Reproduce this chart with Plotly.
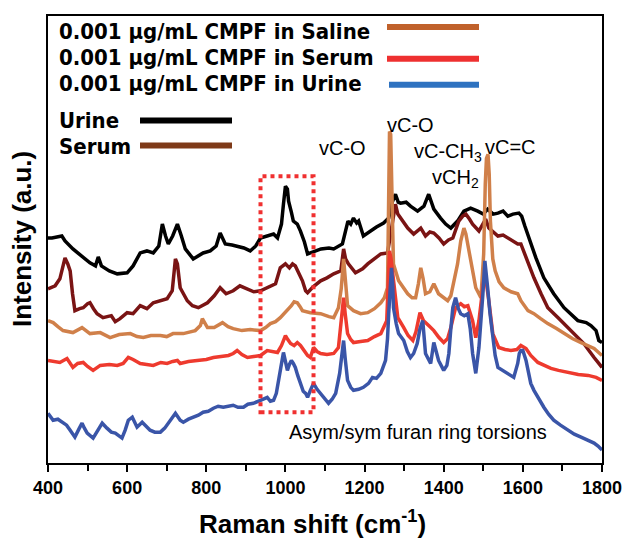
import plotly.graph_objects as go

# ---------------- data (Raman shift in cm-1, intensity in a.u. with offsets) ----------------
urine_x = [400, 410, 435, 443, 463, 485, 506, 520, 527, 535, 555, 575, 600, 615, 633, 650, 666, 680, 689, 697,
           704, 715, 727, 737, 747, 767, 780, 792, 810, 825, 835, 848, 865, 878, 895, 911, 925, 937, 954, 970,
           980, 990, 995, 1000, 1005, 1008, 1015, 1020, 1030, 1038, 1048, 1056, 1070, 1090, 1110, 1122, 1144,
           1152, 1158, 1165, 1172, 1180, 1185, 1197, 1215, 1230, 1248, 1261, 1270, 1278, 1285, 1291, 1305, 1316,
           1334, 1350, 1362, 1368, 1375, 1392, 1405, 1418, 1435, 1451, 1468, 1486, 1500, 1511, 1525, 1537, 1550,
           1562, 1575, 1590, 1597, 1605, 1615, 1633, 1653, 1678, 1704, 1739, 1760, 1772, 1785, 1792, 1800]
urine_y = [226, 226, 228, 223, 215, 208, 201, 198, 207, 198, 193, 190, 191, 198, 211, 213, 211, 218, 240, 228,
           220, 228, 240, 228, 215, 205, 208, 211, 213, 218, 231, 220, 219, 218, 216, 213, 218, 226, 228, 230,
           226, 240, 260, 278, 275, 263, 252, 243, 240, 233, 222, 210, 212, 215, 216, 215, 220,
           235, 243, 240, 246, 241, 243, 228, 233, 237, 241, 246, 262, 270, 262, 261, 262, 258,
           253, 258, 270, 262, 255, 246, 240, 236, 243, 253, 256, 253, 250, 255, 250, 251, 253,
           248, 250, 251, 248, 238, 226, 206, 186, 170, 156, 143, 141, 138, 133, 123, 121]

serum_x = [400, 418, 430, 443, 450, 456, 462, 468, 480, 489, 500, 506, 515, 524, 539, 560, 570, 582, 600, 615,
           633, 650, 666, 685, 701, 714, 718, 722, 727, 734, 752, 765, 780, 803, 820, 835, 850, 868, 885, 904,
           920, 937, 962, 975, 987, 995, 1000, 1010, 1018, 1025, 1035, 1043, 1051, 1056, 1070, 1089, 1105, 1122,
           1140, 1147, 1152, 1159, 1177, 1195, 1208, 1225, 1241, 1258, 1265, 1271, 1278, 1284, 1291, 1309, 1324,
           1342, 1354, 1365, 1375, 1388, 1400, 1412, 1423, 1430, 1438, 1448, 1456, 1465, 1473, 1489, 1500, 1506,
           1514, 1525, 1537, 1550, 1562, 1575, 1587, 1595, 1605, 1613, 1628, 1646, 1663, 1689, 1722, 1754, 1780,
           1800]
serum_y = [175, 178, 185, 206, 200, 193, 170, 153, 155, 156, 160, 161, 155, 150, 146, 148, 142, 145, 151, 150,
           158, 155, 161, 163, 165, 173, 190, 205, 200, 176, 163, 158, 156, 161, 168, 176, 170, 173, 178, 175,
           172, 173, 178, 180, 196, 198, 200, 196, 200, 198, 190, 183, 173, 171, 177, 183, 186, 190,
           193, 215, 205, 200, 191, 195, 200, 205, 210, 211, 228, 240, 260, 250, 246, 236, 230,
           236, 228, 232, 231, 226, 220, 224, 226, 235, 243, 248, 250, 245, 240, 233, 240, 245,
           236, 232, 228, 229, 226, 222, 220, 220, 210, 200, 186, 170, 156, 146, 133, 120, 106,
           96]

saline_cmpf_x = [400, 413, 425, 438, 463, 486, 506, 532, 557, 580, 608, 625, 641, 660, 684, 700, 716, 742, 772,
                 785, 790, 797, 803, 820, 841, 855, 868, 890, 911, 937, 950, 962, 975, 987, 997, 1005, 1015, 1022,
                 1030, 1037, 1043, 1063, 1089, 1110, 1122, 1134, 1141, 1147, 1151, 1157, 1172, 1190, 1208, 1225,
                 1241, 1250, 1258, 1261, 1263, 1266, 1269, 1273, 1286, 1300, 1309, 1320, 1329, 1336, 1342, 1348,
                 1354, 1365, 1375, 1387, 1400, 1410, 1418, 1425, 1435, 1443, 1451, 1456, 1463, 1472, 1481, 1494,
                 1501, 1505, 1508, 1512, 1515, 1518, 1524, 1530, 1540, 1552, 1570, 1587, 1595, 1613, 1628, 1645,
                 1663, 1685, 1704, 1725, 1747, 1765, 1780, 1800]
saline_cmpf_y = [143, 141, 137, 133, 131, 136, 130, 131, 126, 129, 130, 127, 126, 128, 128, 127, 130, 130, 133,
                 138, 145, 140, 136, 136, 141, 137, 135, 133, 134, 133, 136, 140, 142, 146, 150, 153, 158, 162,
                 161, 157, 153, 151, 150, 147, 146, 156, 175, 205, 185, 158, 153, 150, 151, 155,
                 161, 166, 176, 250, 333, 330, 260, 200, 183, 175, 170, 166, 166, 180, 196, 185,
                 170, 172, 180, 170, 166, 163, 168, 183, 200, 223, 236, 230, 216, 195, 176, 166,
                 210, 280, 306, 310, 290, 243, 205, 193, 182, 176, 172, 170, 163, 153, 150, 145,
                 140, 135, 130, 125, 121, 118, 115, 108]

serum_cmpf_x = [400, 415, 430, 448, 463, 475, 489, 500, 514, 532, 555, 575, 590, 603, 615, 633, 650, 666, 685,
                701, 715, 727, 734, 755, 777, 800, 818, 840, 856, 868, 878, 890, 904, 920, 937, 954, 967, 980,
                990, 1000, 1006, 1013, 1022, 1030, 1038, 1046, 1056, 1063, 1071, 1080, 1089, 1105, 1122, 1134,
                1141, 1147, 1151, 1157, 1165, 1172, 1190, 1208, 1225, 1241, 1256, 1260, 1263, 1267, 1273, 1278,
                1284, 1299, 1310, 1322, 1330, 1340, 1349, 1362, 1375, 1388, 1400, 1410, 1418, 1430, 1443, 1452,
                1461, 1473, 1481, 1489, 1496, 1501, 1506, 1510, 1514, 1524, 1539, 1555, 1570, 1585, 1595, 1608,
                1620, 1638, 1655, 1671, 1690, 1714, 1740, 1765, 1785, 1800]
serum_cmpf_y = [103, 102, 101, 105, 96, 100, 101, 97, 93, 98, 99, 98, 100, 106, 104, 100, 99, 98, 101,
                100, 102, 103, 100, 102, 103, 104, 106, 107, 108, 110, 113, 109, 106, 107, 108, 113, 112, 111,
                118, 128, 124, 120, 118, 121, 118, 113, 108, 106, 116, 112, 110, 109, 110, 116,
                140, 166, 150, 130, 124, 121, 122, 123, 127, 130, 143, 180, 213, 205, 183, 160,
                146, 136, 128, 123, 132, 151, 143, 138, 133, 126, 121, 125, 136, 156, 160, 157,
                158, 143, 126, 143, 165, 183, 186, 175, 163, 130, 116, 114, 113, 114, 118, 115,
                108, 101, 98, 95, 93, 91, 89, 88, 86, 83]

urine_cmpf_x = [400, 413, 425, 438, 447, 456, 468, 478, 486, 492, 499, 514, 525, 537, 549, 560, 570, 587, 595,
                603, 613, 625, 638, 648, 658, 670, 684, 695, 704, 714, 722, 734, 742, 755, 767, 780, 792, 805,
                818, 830, 843, 855, 868, 880, 894, 905, 919, 937, 954, 962, 970, 977, 982, 988, 995, 1000, 1005,
                1010, 1015, 1020, 1025, 1031, 1038, 1045, 1051, 1056, 1063, 1071, 1080, 1089, 1100, 1109, 1118,
                1127, 1137, 1143, 1147, 1151, 1157, 1165, 1172, 1185, 1197, 1210, 1220, 1230, 1241, 1253, 1258,
                1261, 1265, 1268, 1271, 1273, 1280, 1286, 1299, 1308, 1316, 1324, 1333, 1340, 1347, 1354, 1367,
                1375, 1387, 1400, 1408, 1413, 1418, 1423, 1430, 1437, 1443, 1452, 1461, 1467, 1473, 1481, 1489,
                1495, 1499, 1504, 1508, 1511, 1517, 1524, 1530, 1537, 1550, 1562, 1577, 1587, 1591, 1595, 1600,
                1608, 1620, 1628, 1640, 1653, 1665, 1678, 1695, 1714, 1730, 1747, 1765, 1780, 1790, 1800]
urine_cmpf_y = [50, 43, 44, 41, 38, 33, 26, 34, 40, 35, 30, 25, 33, 40, 35, 31, 30, 25, 33,
                43, 46, 36, 41, 37, 33, 31, 31, 35, 40, 45, 50, 43, 41, 44, 46, 48, 51, 52,
                55, 57, 56, 57, 58, 56, 56, 59, 60, 63, 66, 62, 63, 70, 80, 95, 111, 103, 93,
                99, 103, 100, 96, 88, 80, 72, 70, 66, 73, 80, 74, 70, 64, 60, 64,
                70, 90, 110, 123, 105, 83, 76, 73, 74, 76, 80, 86, 85, 90, 103, 125,
                150, 180, 196, 180, 156, 140, 130, 123, 112, 106, 110, 120, 135, 143, 110, 100,
                121, 103, 93, 98, 110, 135, 156, 166, 155, 150, 148, 150, 135, 110, 90, 116,
                145, 170, 203, 190, 176, 150, 126, 108, 96, 93, 90, 86, 100, 110, 113, 113,
                103, 80, 73, 64, 56, 49, 43, 38, 33, 29, 26, 23, 20, 17, 13]

series = [
    ("Urine", urine_x, urine_y, "#000000"),
    ("Serum", serum_x, serum_y, "#7A1414"),
    ("0.001 μg/mL CMPF in Saline", saline_cmpf_x, saline_cmpf_y, "#D0804A"),
    ("0.001 μg/mL CMPF in Serum", serum_cmpf_x, serum_cmpf_y, "#EE3A2E"),
    ("0.001 μg/mL CMPF in Urine", urine_cmpf_x, urine_cmpf_y, "#3A55A8"),
]

# label, colour, text y, line y, line x0, line x1  (page pixels)
legend_entries = [
    ("0.001 μg/mL CMPF in Saline", "#C0612B", 30, 25, 387, 479),
    ("0.001 μg/mL CMPF in Serum", "#EE3030", 56, 57, 387, 479),
    ("0.001 μg/mL CMPF in Urine", "#2E72C0", 82, 83, 389, 479),
    ("Urine", "#000000", 119, 119, 140, 232),
    ("Serum", "#7E3A18", 145, 144, 140, 232),
]

peak_labels = [
    ("vC-O", 1145, 316),
    ("vC-O", 1317, 340),
    ("vC-CH<sub>3</sub>", 1411, 312),
    ("vCH<sub>2</sub>", 1430, 286),
    ("vC=C", 1570, 317),
]

# ---------------- figure ----------------
# page has an 8px body margin, so the figure is 8px smaller and margins shifted
W, H = 624, 538
L, R, T, B = 40, 30, 6, 83
PW, PH = W - L - R, H - T - B
X0, Y0 = 48, 463   # page pixel of the plot's lower-left corner


def px(xp):
    return (xp - X0) / PW


def py(yp):
    return (Y0 - yp) / PH


fig = go.Figure()
for name, xs, ys, col in series:
    fig.add_trace(go.Scatter(x=xs, y=ys, mode="lines", name=name,
                             line=dict(color=col, width=3.5), showlegend=False))

ann = []
shapes = []
for text, col, ty, ly, lx0, lx1 in legend_entries:
    ann.append(dict(text=text, x=px(57), y=py(ty), xref="paper", yref="paper",
                    xanchor="left", yanchor="middle", showarrow=False,
                    font=dict(family="DejaVu Sans Condensed, Lato", size=22, color="black", weight="bold")))
    shapes.append(dict(type="line", xref="paper", yref="paper", x0=px(lx0), x1=px(lx1),
                       y0=py(ly), y1=py(ly), line=dict(color=col, width=6)))

for text, xv, yv in peak_labels:
    ann.append(dict(text=text, x=xv, y=yv, xref="x", yref="y", showarrow=False,
                    xanchor="center", yanchor="middle",
                    font=dict(family="Liberation Sans", size=20, color="black")))

ann.append(dict(text="Asym/sym furan ring torsions", x=1335, y=31, xref="x", yref="y",
                showarrow=False, xanchor="center", yanchor="middle",
                font=dict(family="Liberation Sans", size=20, color="black")))

# dotted box around furan ring torsion band
shapes.append(dict(type="rect", xref="x", yref="y", x0=937, x1=1071, y0=51, y1=288,
                   line=dict(color="#F03030", width=4, dash="dot")))

ann.append(dict(text="Raman shift (cm<sup>-1</sup>)", x=px(312), y=py(523), xref="paper", yref="paper",
                showarrow=False, xanchor="center", yanchor="middle",
                font=dict(family="Liberation Sans", size=26, color="black", weight="bold")))
ann.append(dict(text="Intensity (a.u.)", x=px(22), y=py(238), xref="paper", yref="paper",
                showarrow=False, textangle=-90, xanchor="center", yanchor="middle",
                font=dict(family="Liberation Sans", size=26, color="black", weight="bold")))

fig.update_layout(
    width=W, height=H, margin=dict(l=L, r=R, t=T, b=B),
    paper_bgcolor="white", plot_bgcolor="white",
    annotations=ann, shapes=shapes,
    xaxis=dict(range=[400, 1800], dtick=200, tick0=400, ticks="outside", ticklen=7, tickwidth=2,
               tickcolor="black", showline=True, linecolor="black", linewidth=2, mirror=True,
               showgrid=False, zeroline=False,
               tickfont=dict(family="Liberation Sans", size=18, color="black", weight="bold"),
               minor=dict(dtick=100, ticks="outside", ticklen=6, tickwidth=2, tickcolor="black")),
    yaxis=dict(range=[0, PH], showticklabels=False, ticks="", showline=True, linecolor="black",
               linewidth=2, mirror=True, showgrid=False, zeroline=False),
)

fig.write_html("out.html")
